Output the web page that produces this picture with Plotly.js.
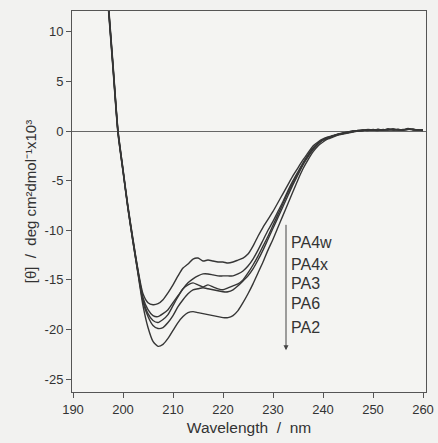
<!DOCTYPE html>
<html>
<head>
<meta charset="utf-8">
<script src="https://cdn.plot.ly/plotly-3.0.1.min.js"></script>
<style>
html,body{margin:0;padding:0;background:#f2f2f0;}
#chart{width:438px;height:443px;}
</style>
</head>
<body>
<div id="chart"></div>
<script>
const wavelength = [197,198,199,200,201,202,203,204,205,206,207,208,209,210,211,212,213,214,215,216,217,218,219,220,221,222,223,224,225,226,227,228,229,230,231,232,233,234,235,236,237,238,239,240,241,242,243,244,245,246,247,248,249,250,251,252,253,254,255,256,257,258,259,260];

const PA4w = [13.2,6.6,0.0,-3.8,-7.6,-10.9,-14.0,
  -16.4,-17.3,-17.5,-17.4,-17.0,-16.3,-15.5,
  -14.6,-13.8,-13.4,-12.9,-12.8,
  -13.1,-13.0,-13.1,-13.2,-13.2,
  -13.3,-13.2,-13.0,-12.8,-12.4,
  -11.6,-10.6,-9.7,-8.9,-8.1,
  -7.2,-6.3,-5.4,-4.5,-3.7,
  -2.9,-2.2,-1.5,-1.1,-0.8,
  -0.6,-0.45,-0.3,-0.2,-0.1,0.0,0.05,0.1,0.15,0.1,0.15,0.1,0.2,0.15,0.1,0.15,0.2,0.1,0.1,0.05];

const PA4x = [13.0,6.4,-0.2,-4.0,-7.8,-11.1,-14.2,
  -16.8,-18.0,-18.6,-18.7,-18.4,-18.0,-17.3,
  -16.6,-15.9,-15.3,-14.9,-14.6,
  -14.4,-14.4,-14.5,-14.6,-14.6,
  -14.6,-14.6,-14.4,-14.1,-13.6,
  -12.9,-12.0,-11.0,-10.0,-9.1,
  -8.1,-7.1,-6.0,-5.0,-4.1,
  -3.2,-2.4,-1.7,-1.2,-0.9,
  -0.65,-0.5,-0.35,-0.25,-0.15,-0.05,0.0,0.05,0.1,0.1,0.05,0.15,0.1,0.1,0.15,0.1,0.2,0.15,0.1,0.1];

const PA3 = [13.4,6.8,0.1,-3.9,-7.7,-11.0,-14.1,
  -17.0,-18.4,-19.1,-19.3,-19.0,-18.5,-17.6,
  -16.7,-15.9,-15.5,-15.3,-15.5,
  -15.7,-15.5,-15.7,-15.9,-16.0,
  -15.8,-15.6,-15.4,-15.0,-14.3,
  -13.5,-12.6,-11.6,-10.6,-9.5,
  -8.4,-7.3,-6.2,-5.2,-4.2,
  -3.3,-2.5,-1.8,-1.3,-0.9,
  -0.7,-0.5,-0.35,-0.2,-0.1,0.0,0.05,0.1,0.05,0.15,0.1,0.1,0.2,0.1,0.15,0.1,0.25,0.15,0.1,0.1];

const PA6 = [12.8,6.2,-0.3,-4.1,-7.9,-11.2,-14.3,
  -17.2,-18.7,-19.6,-19.9,-19.8,-19.3,-18.6,
  -17.7,-17.0,-16.4,-16.0,-15.9,
  -15.8,-15.9,-16.0,-16.1,-16.2,
  -16.2,-16.0,-15.6,-15.1,-14.6,
  -13.9,-13.0,-12.0,-10.9,-9.8,
  -8.7,-7.6,-6.5,-5.4,-4.4,
  -3.4,-2.6,-1.9,-1.3,-0.9,
  -0.7,-0.5,-0.35,-0.25,-0.15,-0.05,0.0,0.05,0.1,0.1,0.15,0.1,0.15,0.2,0.1,0.1,0.15,0.2,0.1,0.1];

const PA2 = [13.1,6.5,-0.1,-4.0,-7.8,-11.2,-14.4,
  -17.6,-19.8,-21.2,-21.7,-21.5,-20.9,-20.1,
  -19.3,-18.7,-18.3,-18.2,-18.3,
  -18.4,-18.5,-18.6,-18.7,-18.8,
  -18.8,-18.6,-18.1,-17.3,-16.4,
  -15.4,-14.3,-13.2,-12.0,-10.9,
  -9.7,-8.5,-7.3,-6.1,-4.9,
  -3.8,-2.9,-2.1,-1.5,-1.1,
  -0.8,-0.6,-0.4,-0.3,-0.2,-0.1,0.0,0.05,0.1,0.1,0.15,0.1,0.1,0.2,0.15,0.1,0.2,0.15,0.1,0.05];

const seriesNames = ["PA4w","PA4x","PA3","PA6","PA2"];
const seriesValues = [PA4w, PA4x, PA3, PA6, PA2];
const labelY = [-11.2, -13.4, -15.4, -17.4, -19.8];

const xTickVals = [190,200,210,220,230,240,250,260];
const xTickText = ["190","200","210","220","230","240","250","260"];
const yTickVals = [10,5,0,-5,-10,-15,-20,-25];
const yTickText = ["10","5","0","-5","-10","-15","-20","-25"];

const arrowX = 232.6, arrowTop = -9.3, arrowBottom = -22.1, labelX = 233.2;

const traces = seriesValues.map((v, i) => ({
  x: wavelength, y: v, name: seriesNames[i], type: 'scatter', mode: 'lines',
  line: {color: '#363636', width: 1.4, shape: 'spline', smoothing: 0.6},
  showlegend: false, hoverinfo: 'skip'
}));

const annotations = seriesNames.map((n, i) => ({
  x: labelX, y: labelY[i], xref: 'x', yref: 'y', text: n, showarrow: false,
  xanchor: 'left', yanchor: 'middle',
  font: {family: 'Liberation Sans, Arial, sans-serif', size: 16, color: '#333'}
}));
annotations.push({
  x: arrowX, y: arrowBottom, ax: arrowX, ay: arrowTop, xref: 'x', yref: 'y', axref: 'x', ayref: 'y',
  text: '', showarrow: true, arrowhead: 2, arrowsize: 1, arrowwidth: 1, arrowcolor: '#444', standoff: 0, startstandoff: 0
});

const layout = {
  width: 438, height: 443,
  margin: {l: 72, r: 12, t: 11, b: 51},
  paper_bgcolor: '#f2f2f0', plot_bgcolor: '#f4f4f2',
  font: {family: 'Liberation Sans, Arial, sans-serif', color: '#333'},
  xaxis: {
    range: [189.8, 260.6], tickvals: xTickVals, ticktext: xTickText,
    ticks: 'outside', ticklen: 5, tickwidth: 1, tickcolor: '#555',
    showline: true, linecolor: '#555', linewidth: 1, mirror: true,
    showgrid: false, zeroline: false,
    tickfont: {size: 13, color: '#333'},
    title: {text: 'Wavelength\u00a0 /\u00a0 nm', font: {size: 15.5, color: '#333'}, standoff: 6}
  },
  yaxis: {
    range: [-26.3, 12.1], tickvals: yTickVals, ticktext: yTickText,
    ticks: 'outside', ticklen: 5, tickwidth: 1, tickcolor: '#555',
    showline: true, linecolor: '#555', linewidth: 1, mirror: true,
    showgrid: false, zeroline: true, zerolinecolor: '#666', zerolinewidth: 1,
    tickfont: {size: 13, color: '#333'},
    title: {text: '[θ]\u00a0 /\u00a0 deg cm²dmol⁻¹x10³', font: {size: 15, color: '#333'}, standoff: 4}
  },
  annotations: annotations
};

Plotly.newPlot('chart', traces, layout, {displayModeBar: false, staticPlot: true});
</script>
</body>
</html>
